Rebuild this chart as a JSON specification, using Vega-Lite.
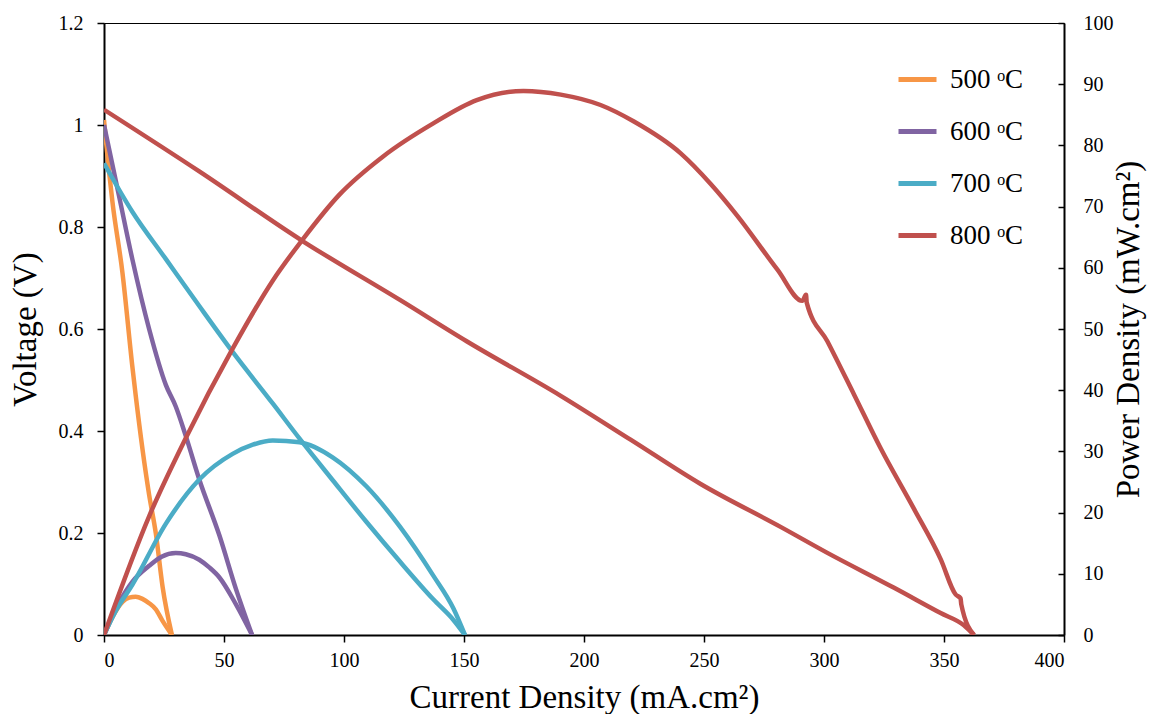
{
  "$schema": "https://vega.github.io/schema/vega-lite/v6.json",
  "width": 960,
  "height": 612,
  "autosize": "none",
  "padding": {"left": 104, "top": 23, "right": 92, "bottom": 79},
  "background": "white",
  "config": {
    "font": "Liberation Serif",
    "view": {"stroke": "#000", "strokeWidth": 1},
    "axis": {"grid": false, "domainColor": "#000", "domainWidth": 2, "tickColor": "#000", "tickWidth": 1.5, "labelColor": "#000", "titleColor": "#000", "labelFontSize": 20, "titleFontSize": 33, "titleFontWeight": "normal", "labelFont": "Liberation Serif", "titleFont": "Liberation Serif"}
  },
  "datasets": {
    "volt": [
      {"T": "500 ᵒC", "I": 0, "V": 1.01}, {"T": "500 ᵒC", "I": 1, "V": 0.96}, {"T": "500 ᵒC", "I": 3.5, "V": 0.85}, {"T": "500 ᵒC", "I": 7.7, "V": 0.71}, {"T": "500 ᵒC", "I": 11.8, "V": 0.527}, {"T": "500 ᵒC", "I": 13.2, "V": 0.47}, {"T": "500 ᵒC", "I": 18.8, "V": 0.275}, {"T": "500 ᵒC", "I": 21.6, "V": 0.199}, {"T": "500 ᵒC", "I": 24.4, "V": 0.095}, {"T": "500 ᵒC", "I": 28.3, "V": 0},
      {"T": "600 ᵒC", "I": 0, "V": 1.0}, {"T": "600 ᵒC", "I": 6.3, "V": 0.86}, {"T": "600 ᵒC", "I": 11.8, "V": 0.737}, {"T": "600 ᵒC", "I": 18.8, "V": 0.6}, {"T": "600 ᵒC", "I": 25.8, "V": 0.49}, {"T": "600 ᵒC", "I": 29.9, "V": 0.448}, {"T": "600 ᵒC", "I": 34.1, "V": 0.39}, {"T": "600 ᵒC", "I": 39.7, "V": 0.305}, {"T": "600 ᵒC", "I": 48.1, "V": 0.195}, {"T": "600 ᵒC", "I": 55, "V": 0.09}, {"T": "600 ᵒC", "I": 61.7, "V": 0},
      {"T": "700 ᵒC", "I": 0, "V": 0.925}, {"T": "700 ᵒC", "I": 11.8, "V": 0.83}, {"T": "700 ᵒC", "I": 25.8, "V": 0.737}, {"T": "700 ᵒC", "I": 39.7, "V": 0.645}, {"T": "700 ᵒC", "I": 53.6, "V": 0.555}, {"T": "700 ᵒC", "I": 70.3, "V": 0.454}, {"T": "700 ᵒC", "I": 81.5, "V": 0.385}, {"T": "700 ᵒC", "I": 95.4, "V": 0.303}, {"T": "700 ᵒC", "I": 109.3, "V": 0.222}, {"T": "700 ᵒC", "I": 123.3, "V": 0.144}, {"T": "700 ᵒC", "I": 137.2, "V": 0.07}, {"T": "700 ᵒC", "I": 145.5, "V": 0.03}, {"T": "700 ᵒC", "I": 150.4, "V": 0},
      {"T": "800 ᵒC", "I": 0, "V": 1.03}, {"T": "800 ᵒC", "I": 39.7, "V": 0.909}, {"T": "800 ᵒC", "I": 82.9, "V": 0.772}, {"T": "800 ᵒC", "I": 123.3, "V": 0.657}, {"T": "800 ᵒC", "I": 151.1, "V": 0.576}, {"T": "800 ᵒC", "I": 190.3, "V": 0.469}, {"T": "800 ᵒC", "I": 219.4, "V": 0.383}, {"T": "800 ᵒC", "I": 248.6, "V": 0.296}, {"T": "800 ᵒC", "I": 281.9, "V": 0.212}, {"T": "800 ᵒC", "I": 301.4, "V": 0.161}, {"T": "800 ᵒC", "I": 329.2, "V": 0.0925}, {"T": "800 ᵒC", "I": 348.6, "V": 0.043}, {"T": "800 ᵒC", "I": 358.3, "V": 0.019}, {"T": "800 ᵒC", "I": 362.5, "V": 0}
    ],
    "pow": [
      {"T": "500 ᵒC", "I": 0, "P": 0}, {"T": "500 ᵒC", "I": 3.5, "P": 2.9}, {"T": "500 ᵒC", "I": 7.7, "P": 5.4}, {"T": "500 ᵒC", "I": 10.5, "P": 6.1}, {"T": "500 ᵒC", "I": 13.2, "P": 6.25}, {"T": "500 ᵒC", "I": 16, "P": 5.9}, {"T": "500 ᵒC", "I": 18.8, "P": 5.2}, {"T": "500 ᵒC", "I": 21.6, "P": 4.2}, {"T": "500 ᵒC", "I": 24.4, "P": 2.3}, {"T": "500 ᵒC", "I": 28.3, "P": 0},
      {"T": "600 ᵒC", "I": 0, "P": 0}, {"T": "600 ᵒC", "I": 6.3, "P": 5.3}, {"T": "600 ᵒC", "I": 11.8, "P": 8.7}, {"T": "600 ᵒC", "I": 18.8, "P": 11.3}, {"T": "600 ᵒC", "I": 24, "P": 12.8}, {"T": "600 ᵒC", "I": 29.9, "P": 13.4}, {"T": "600 ᵒC", "I": 34.1, "P": 13.2}, {"T": "600 ᵒC", "I": 39.7, "P": 12.3}, {"T": "600 ᵒC", "I": 44, "P": 11}, {"T": "600 ᵒC", "I": 48.1, "P": 9.4}, {"T": "600 ᵒC", "I": 55, "P": 5.0}, {"T": "600 ᵒC", "I": 61.7, "P": 0},
      {"T": "700 ᵒC", "I": 0, "P": 0}, {"T": "700 ᵒC", "I": 5, "P": 4.0}, {"T": "700 ᵒC", "I": 11.8, "P": 8.2}, {"T": "700 ᵒC", "I": 25.8, "P": 18.2}, {"T": "700 ᵒC", "I": 39.7, "P": 25.4}, {"T": "700 ᵒC", "I": 53.6, "P": 29.6}, {"T": "700 ᵒC", "I": 62, "P": 31.1}, {"T": "700 ᵒC", "I": 70.3, "P": 31.8}, {"T": "700 ᵒC", "I": 81.5, "P": 31.5}, {"T": "700 ᵒC", "I": 95.4, "P": 29.0}, {"T": "700 ᵒC", "I": 109.3, "P": 24.3}, {"T": "700 ᵒC", "I": 123.3, "P": 17.7}, {"T": "700 ᵒC", "I": 137.2, "P": 9.7}, {"T": "700 ᵒC", "I": 145.5, "P": 4.4}, {"T": "700 ᵒC", "I": 150.4, "P": 0},
      {"T": "800 ᵒC", "I": 0, "P": 0}, {"T": "800 ᵒC", "I": 18.8, "P": 19.4}, {"T": "800 ᵒC", "I": 34.1, "P": 32.2}, {"T": "800 ᵒC", "I": 53.6, "P": 46.8}, {"T": "800 ᵒC", "I": 70.3, "P": 57.9}, {"T": "800 ᵒC", "I": 82.9, "P": 64.7}, {"T": "800 ᵒC", "I": 98.2, "P": 72.0}, {"T": "800 ᵒC", "I": 116.3, "P": 78.2}, {"T": "800 ᵒC", "I": 137.2, "P": 83.6}, {"T": "800 ᵒC", "I": 155.3, "P": 87.4}, {"T": "800 ᵒC", "I": 174.8, "P": 88.9}, {"T": "800 ᵒC", "I": 190.3, "P": 88.3}, {"T": "800 ᵒC", "I": 206.9, "P": 86.6}, {"T": "800 ᵒC", "I": 220.8, "P": 83.9}, {"T": "800 ᵒC", "I": 240.3, "P": 78.7}, {"T": "800 ᵒC", "I": 252.8, "P": 73.7}, {"T": "800 ᵒC", "I": 263.9, "P": 68.5}, {"T": "800 ᵒC", "I": 280.6, "P": 59.7}, {"T": "800 ᵒC", "I": 291, "P": 54.6}, {"T": "800 ᵒC", "I": 292.5, "P": 55.6}, {"T": "800 ᵒC", "I": 292.8, "P": 54.3}, {"T": "800 ᵒC", "I": 301.4, "P": 48.0}, {"T": "800 ᵒC", "I": 312.5, "P": 39.3}, {"T": "800 ᵒC", "I": 323.6, "P": 30.5}, {"T": "800 ᵒC", "I": 337.5, "P": 20.6}, {"T": "800 ᵒC", "I": 348.6, "P": 12.4}, {"T": "800 ᵒC", "I": 354.9, "P": 6.6}, {"T": "800 ᵒC", "I": 356.9, "P": 6.0}, {"T": "800 ᵒC", "I": 357.2, "P": 5.0}, {"T": "800 ᵒC", "I": 362.5, "P": 0}
    ]
  },
  "layer": [
    {
      "data": {"name": "volt"},
      "mark": {"type": "line", "strokeWidth": 4.5, "clip": true, "interpolate": "monotone"},
      "encoding": {
        "x": {"field": "I", "type": "quantitative", "scale": {"domain": [0, 400], "nice": false},
          "axis": {"title": "Current Density (mA.cm²)", "values": [0, 50, 100, 150, 200, 250, 300, 350, 400], "tickSize": 7, "labelPadding": 8, "titlePadding": 11}},
        "y": {"field": "V", "type": "quantitative", "scale": {"domain": [0, 1.2], "nice": false},
          "axis": {"title": "Voltage (V)", "orient": "left", "values": [0, 0.2, 0.4, 0.6, 0.8, 1, 1.2], "format": "~g", "tickSize": 7, "labelPadding": 14, "titlePadding": 16}},
        "color": {"field": "T", "type": "nominal",
          "scale": {"domain": ["500 ᵒC", "600 ᵒC", "700 ᵒC", "800 ᵒC"], "range": ["#F79646", "#8064A2", "#4BACC6", "#C0504D"]},
          "legend": {"title": null, "orient": "none", "legendX": 792, "legendY": 35, "symbolType": "stroke", "symbolSize": 1444, "symbolStrokeWidth": 5, "labelFontSize": 27, "labelFont": "Liberation Serif", "labelColor": "#000", "labelOffset": 11, "rowPadding": 17}}
      }
    },
    {
      "data": {"name": "pow"},
      "mark": {"type": "line", "strokeWidth": 4.5, "clip": true, "interpolate": "monotone"},
      "encoding": {
        "x": {"field": "I", "type": "quantitative"},
        "y": {"field": "P", "type": "quantitative", "scale": {"domain": [0, 100], "nice": false},
          "axis": {"title": "Power Density (mW.cm²)", "orient": "right", "values": [0, 10, 20, 30, 40, 50, 60, 70, 80, 90, 100], "tickSize": -6, "labelPadding": 25, "titleAngle": 270, "titlePadding": 32}},
        "color": {"field": "T", "type": "nominal"}
      }
    }
  ],
  "resolve": {"scale": {"y": "independent"}}
}
